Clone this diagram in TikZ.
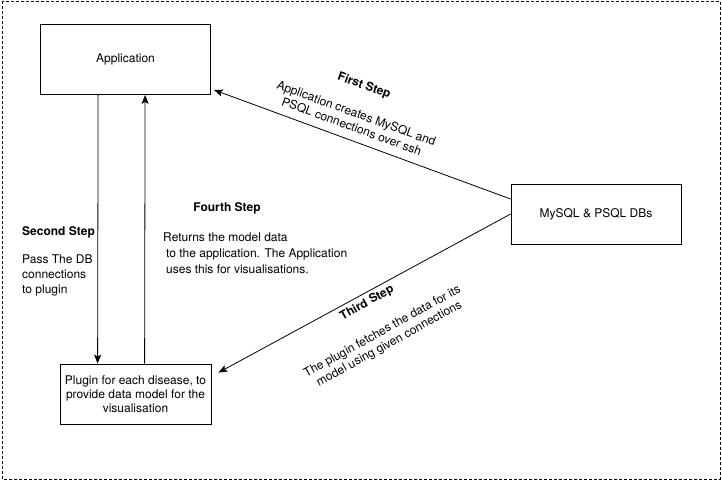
\documentclass[tikz,border=0pt]{standalone}
\usepackage{fontspec}
\setmainfont{TeX Gyre Heros}
\usetikzlibrary{arrows.meta}

\begin{document}
\begin{tikzpicture}[x=1pt, y=-1pt,
                box/.style={draw, line width=0.8pt, inner sep=2pt, align=center, font=\fontsize{12}{14}\selectfont},
                link/.style={line width=0.8pt, -{Stealth[length=9pt, width=7pt, inset=2pt]}},
                lbl/.style={align=center, inner sep=0pt, font=\fontsize{12}{14}\selectfont},
                head/.style={lbl, font=\fontsize{12}{14}\selectfont\bfseries}]
                \useasboundingbox (0,0) rectangle (722,482);
                \draw[line width=0.8pt, dash pattern=on 3pt off 2pt] (2,1) rectangle (720,479);
                \node[box, minimum width=170pt, minimum height=70pt] (app) at (125.5,59.5) {Application};
                \node[box, minimum width=170pt, minimum height=60pt] (db) at (596,214) {MySQL \& PSQL DBs};
                \node[box, minimum width=151pt, minimum height=60pt] (plugin) at (135.5,394) {Plugin for each disease, to\\provide data model for the\\visualisation};
                \draw[link] ([yshift=15pt]db.west) -- ([xshift=3pt, yshift=5pt]app.south east);
                \draw[link] ([xshift=58pt]app.south west) -- ([xshift=38pt]plugin.north west);
                \draw[link] (db.west) -- ([xshift=7pt, yshift=-9pt]plugin.north east);
                \draw[link] ([xshift=85pt]plugin.north west) -- ([xshift=105pt]app.south west);
                \node[head, rotate=-20] (first) at (364,86) {First Step};
                \node[lbl, rotate=-20] (firsttxt) at (354,120) {Application creates MySQL and\\PSQL connections over ssh};
                \node[lbl, anchor=west, align=left, font=\fontsize{12}{15}\selectfont] (second) at (22,261.5) {\textbf{Second Step}\\[13pt]Pass The DB\\connections\\to plugin};
                \node[head, rotate=29] (third) at (367,303) {Third Step};
                \node[lbl, rotate=29] (thirdtxt) at (386,338) {The plugin fetches the data for its\\model using given connections};
                \node[head] (fourth) at (227,208) {Fourth Step};
                \node[lbl, anchor=west, align=left, font=\fontsize{12}{16}\selectfont] (fourthtxt) at (163,253) {Returns the model data\\\hspace{3pt}to the application. The Application\\\hspace{3pt}uses this for visualisations.};
\end{tikzpicture}
\end{document}
